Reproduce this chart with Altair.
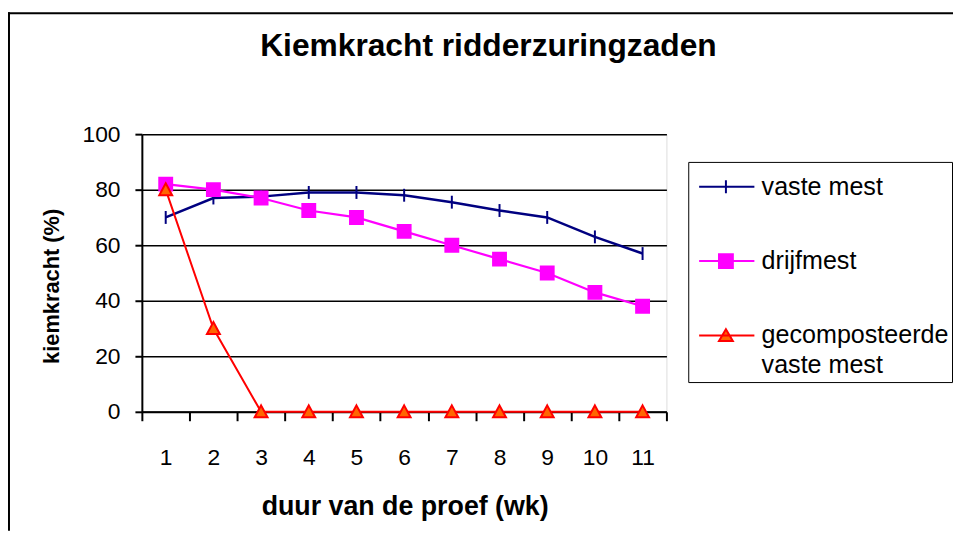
import altair as alt
import pandas as pd

weeks = [1, 2, 3, 4, 5, 6, 7, 8, 9, 10, 11]
series_names = ["vaste mest", "drijfmest", "gecomposteerde vaste mest"]
vaste_mest = [70, 77, 77.5, 79, 79, 78, 75.5, 72.5, 70, 63, 57]
drijfmest = [82, 80, 77, 72.5, 70, 65, 60, 55, 50, 43, 38]
gecomposteerd = [80, 30, 0, 0, 0, 0, 0, 0, 0, 0, 0]
y_ticks = [0, 20, 40, 60, 80, 100]

rows = []
for name, vals in zip(series_names, [vaste_mest, drijfmest, gecomposteerd]):
    for w, v in zip(weeks, vals):
        rows.append({"week": w, "kiemkracht": v, "series": name})
df = pd.DataFrame(rows)

stroke_colors = ["#000080", "#FF00FF", "#FF0000"]
fill_colors = ["#000080", "#FF00FF", "#FF6600"]
marker_paths = ["M0,-1V1", "M-1,-1H1V1H-1Z", "M0,-1L1,0.85L-1,0.85Z"]
legend_paths = [
    "M-0.667,0H1.986M0.619,-0.31V0.31",
    "M-0.667,0H1.986M0.286,-0.333H0.952V0.333H0.286Z",
    "M-0.667,0H1.986M0.619,-0.3L0.952,0.27L0.286,0.27Z",
]

FONT = "Liberation Sans"

x_enc = alt.X(
    "week:O",
    sort=weeks,
    scale=alt.Scale(type="band", paddingInner=0, paddingOuter=0),
    axis=alt.Axis(
        title="duur van de proef (wk)",
        titleFontSize=27,
        titleFontWeight="bold",
        titleFont=FONT,
        titleColor="black",
        titleX=265,
        titleY=104,
        titleBaseline="alphabetic",
        titleAlign="center",
        labelFontSize=23,
        labelFont=FONT,
        labelColor="black",
        labelAngle=0,
        labelPadding=26,
        tickBand="extent",
        tickSize=9,
        tickWidth=2,
        tickColor="black",
        domainColor="black",
        domainWidth=2,
        grid=False,
    ),
)
y_enc = alt.Y(
    "kiemkracht:Q",
    scale=alt.Scale(domain=[0, 100], nice=False),
    axis=alt.Axis(
        title="kiemkracht (%)",
        titleFontSize=22,
        titleFontWeight="bold",
        titleFont=FONT,
        titleColor="black",
        titleX=-91,
        titleY=153,
        titleAngle=270,
        titleBaseline="middle",
        titleAlign="center",
        values=y_ticks,
        labelFontSize=23,
        labelFont=FONT,
        labelColor="black",
        labelPadding=15,
        tickSize=7,
        tickWidth=2,
        tickColor="black",
        domainColor="black",
        domainWidth=2,
        grid=True,
        gridColor="black",
        gridWidth=1.5,
    ),
)

lines = alt.Chart(df).mark_line().encode(
    x=x_enc,
    y=y_enc,
    stroke=alt.Stroke("series:N", scale=alt.Scale(domain=series_names, range=stroke_colors), legend=None),
    strokeWidth=alt.StrokeWidth(
        "series:N", scale=alt.Scale(domain=series_names, range=[2.5, 2, 2]), legend=None
    ),
    detail="series:N",
)

points = alt.Chart(df).mark_point(filled=False, size=169, strokeWidth=2, opacity=1).encode(
    x=x_enc,
    y=y_enc,
    shape=alt.Shape("series:N", scale=alt.Scale(domain=series_names, range=marker_paths), legend=None),
    stroke=alt.Stroke("series:N", scale=alt.Scale(domain=series_names, range=stroke_colors), legend=None),
    fill=alt.Fill("series:N", scale=alt.Scale(domain=series_names, range=fill_colors), legend=None),
)

leg = alt.Legend(
    title=None,
    orient="none",
    legendX=551,
    legendY=28,
    padding=3,
    strokeColor="black",
    fillColor="white",
    labelFontSize=25.3,
    labelFont=FONT,
    labelColor="black",
    labelLimit=0,
    labelOffset=27,
    rowPadding=39,
    symbolSize=1764,
    symbolStrokeWidth=2,
    symbolOpacity=1,
    labelExpr="datum.label == 'gecomposteerde vaste mest' ? ['gecomposteerde', 'vaste mest'] : datum.label",
)

legend_layer = alt.Chart(df).transform_filter("datum.kiemkracht < -1000").mark_point(
    filled=False, size=1764, strokeWidth=2, opacity=1
).encode(
    x=x_enc,
    y=y_enc,
    shape=alt.Shape("series:N", scale=alt.Scale(domain=series_names, range=legend_paths), legend=leg),
    stroke=alt.Stroke("series:N", scale=alt.Scale(domain=series_names, range=stroke_colors), legend=leg),
    fill=alt.Fill("series:N", scale=alt.Scale(domain=series_names, range=fill_colors), legend=leg),
)

border_data = pd.DataFrame({"a": [0]})
border_left = alt.Chart(border_data).mark_rule(color="black", strokeWidth=2).encode(
    x=alt.value(-134), y=alt.value(-123), y2=alt.value(400)
)
border_top = alt.Chart(border_data).mark_rule(color="black", strokeWidth=2).encode(
    x=alt.value(-135), x2=alt.value(820), y=alt.value(-122)
)

chart = (
    alt.layer(border_left, border_top, lines, points, legend_layer)
    .resolve_scale(shape="independent", stroke="independent", fill="independent")
    .properties(
        width=529,
        height=280,
        padding={"left": 135, "top": 125, "right": 289, "bottom": 120},
        autosize=alt.AutoSizeParams(type="none"),
        title=alt.TitleParams(
            "Kiemkracht ridderzuringzaden",
            fontSize=32,
            fontWeight="bold",
            font=FONT,
            color="black",
            anchor="middle",
            frame="group",
            dx=85,
            offset=-77,
            baseline="alphabetic",
        ),
    )
    .configure_view(stroke="black", strokeWidth=1.5)
    .configure(font=FONT, background="white", style={"guide-label": {"lineHeight": 30}})
)

chart.save("out.html", embed_options={"renderer": "svg", "actions": False})
